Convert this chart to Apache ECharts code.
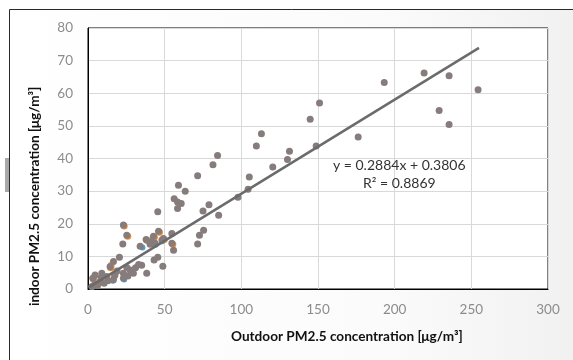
<!DOCTYPE html>
<html>
<head>
<meta charset="utf-8">
<script src="https://cdn.jsdelivr.net/npm/echarts@6/dist/echarts.min.js"></script>
<style>
html,body{margin:0;padding:0;background:#fff;}
#c{width:573px;height:360px;}
</style>
</head>
<body>
<div id="c"></div>
<script>
// Grey series (main visible measurements): outdoor x, indoor y
const outdoorMain = [254.4, 219.2, 235.5, 193.2, 229, 235.5, 176.2, 151, 144.9, 148.8,
  113.1, 109.8, 131.4, 130.1, 120.5, 105.2, 104.4, 97.8, 84.5, 81.5,
  71.5, 78.9, 75, 85.2, 75.4, 59, 63.4, 56.2, 58.4, 60.8,
  58.4, 45.5, 23.1, 25.3, 22.7, 46, 42.7, 54.7, 37.9, 41.6,
  49.2, 34, 43.8, 71.5, 72.7, 40.5, 48.2, 54.7, 55.8, 45.5,
  43.1, 48.8, 35, 38.3, 20.5, 16.6, 14.4, 25.3, 27.5, 23.1,
  29.6, 9, 4.6, 3.1, 12.2, 17.6, 7.8, 4.6, 16.6, 23.1,
  10.5, 6, 2.5, 19, 31, 13, 8.5, 26, 33];
const indoorMain = [61.1, 66.2, 65.4, 63.3, 54.7, 50.4, 46.6, 57, 52, 43.8,
  47.6, 43.8, 42.2, 39.7, 37.4, 34.3, 30.6, 28.1, 40.9, 38.1,
  34.7, 25.8, 23.9, 22.6, 18, 31.8, 30, 27.7, 26.7, 26.2,
  24.7, 23.7, 19.6, 16.5, 13.8, 17.7, 16.2, 17, 15.2, 14.5,
  15.5, 13.1, 14, 13.8, 16.5, 13.7, 15, 14, 11.9, 9.7,
  8.9, 7, 7.3, 4.8, 9.7, 8.4, 6.8, 6.6, 5.8, 4.8,
  4.8, 4.8, 4.3, 3.3, 3.8, 4.3, 2.2, 1.5, 2.8, 3.3,
  1.8, 1, 0.8, 5.5, 6.5, 2.5, 3.5, 4, 7.5];
// Partly hidden orange series (mostly covered by the grey markers)
const outdoorOrange = [23.6, 43.3, 46.6, 38.5, 25.9, 14.9, 15.0, 6.4, 17.1, 28, 49.7, 55.3, 3.6];
const indoorOrange  = [19.3, 15.9, 17.4, 14.9, 16.2, 6.5, 7.2, 1.3, 4.0, 5.5, 15.2, 13.7, 3.0];
// Partly hidden blue series (mostly covered by the grey markers)
const outdoorBlue = [2.9, 5.2, 8.3, 12.5, 16.2, 23.6, 44.1, 48.4, 42.2, 35.5];
const indoorBlue  = [0.6, 1.1, 1.9, 3.5, 2.5, 2.9, 13.6, 14.6, 15.8, 12.7];
// Linear trendline y = 0.2884x + 0.3806
const slope = 0.2884, intercept = 0.3806;
const trendX = [1, 255];
const xTicks = [0, 300, 50];
const yTicks = [0, 80, 10];

const pair = (xs, ys) => xs.map((x, i) => [x, ys[i]]);
const chart = echarts.init(document.getElementById('c'), null, {renderer: 'canvas'});
const FONT = 'Lato';
chart.setOption({
  backgroundColor: '#ffffff',
  animation: false,
  textStyle: {fontFamily: FONT},
  graphic: [
    {type: 'rect', z: -10, silent: true,
     shape: {x: 9.5, y: 9.5, width: 620, height: 420},
     style: {fill: new echarts.graphic.LinearGradient(0, 0, 1, 0, [{offset: 0, color: '#ffffff'}, {offset: 0.6, color: '#fbfbfb'}, {offset: 1, color: '#eeeeee'}]),
             stroke: '#2a2a2a', lineWidth: 1}},
    {type: 'rect', z: -9, silent: true, shape: {x: 5, y: 158, width: 4, height: 34}, style: {fill: '#a8a8a8'}},
    {type: 'text', left: 231, top: 330, z: 10,
     style: {text: 'Outdoor PM2.5 concentration [μg/m³]', font: 'bold 13.6px Lato', fill: '#111'}},
    {type: 'text', rotation: Math.PI / 2, x: 28, y: 306, z: 10,
     style: {text: 'indoor PM2.5 concentration [μg/m³]', font: 'bold 13.6px Lato', fill: '#111'}},
    {type: 'text', left: 333, top: 158, z: 10,
     style: {text: 'y = 0.2884x + 0.3806', font: '14px Lato', fill: '#333'}},
    {type: 'text', left: 363, top: 176, z: 10,
     style: {text: 'R² = 0.8869', font: '14px Lato', fill: '#333'}}
  ],
  grid: {left: 88, right: 25, top: 28, bottom: 71, show: true, borderColor: '#000', borderWidth: 1, backgroundColor: '#ffffff'},
  xAxis: {
    type: 'value', min: xTicks[0], max: xTicks[1], interval: xTicks[2],
    axisLine: {show: true, onZero: false, lineStyle: {color: '#000', width: 1}},
    axisTick: {show: false},
    axisLabel: {color: '#8c8c8c', fontSize: 13.5, margin: 14, fontFamily: FONT},
    splitLine: {show: true, lineStyle: {color: '#d9d9d9', width: 1}}
  },
  yAxis: {
    type: 'value', min: yTicks[0], max: yTicks[1], interval: yTicks[2],
    axisLine: {show: true, onZero: false, lineStyle: {color: '#000', width: 1}},
    axisTick: {show: false},
    axisLabel: {color: '#8c8c8c', fontSize: 13.5, margin: 15, fontFamily: FONT},
    splitLine: {show: true, lineStyle: {color: '#d9d9d9', width: 1}}
  },
  series: [
    {type: 'scatter', name: 'blue', data: pair(outdoorBlue, indoorBlue), symbolSize: 6, z: 2,
     itemStyle: {color: '#4a9fd8', opacity: 1}},
    {type: 'scatter', name: 'orange', data: pair(outdoorOrange, indoorOrange), symbolSize: 7, z: 3,
     itemStyle: {color: '#f08a2c', opacity: 1}},
    {type: 'scatter', name: 'grey', data: pair(outdoorMain, indoorMain), symbolSize: 7, z: 4,
     itemStyle: {color: '#877c7c', opacity: 1}},
    {type: 'line', name: 'trend', data: trendX.map(x => [x, slope * x + intercept]), z: 5,
     symbol: 'none', lineStyle: {color: '#6b6b6b', width: 2.5}}
  ]
});
</script>
</body>
</html>
